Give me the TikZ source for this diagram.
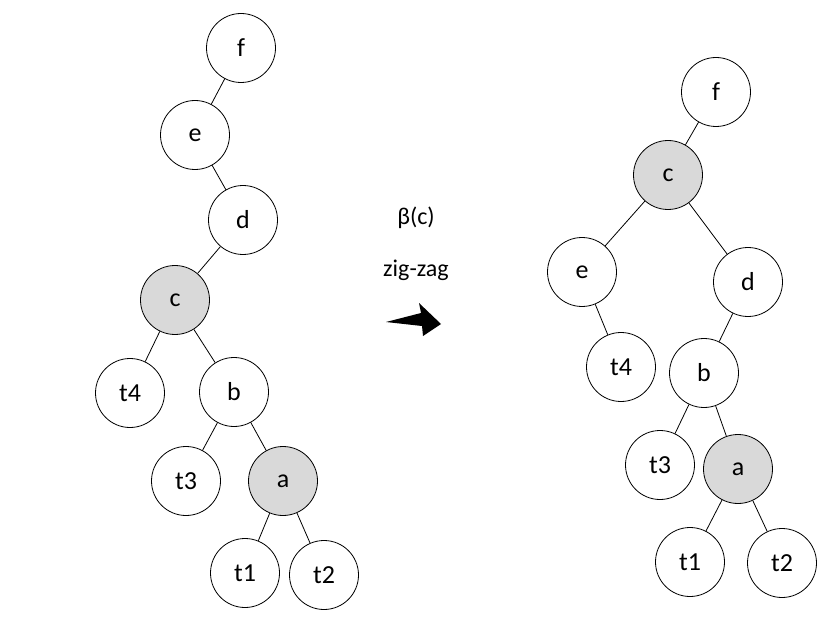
\documentclass[tikz,border=0pt]{standalone}
\usepackage{fontspec}
\setmainfont{Carlito}
\begin{document}
\begin{tikzpicture}[x=1pt,y=-1pt,
  nd/.style={circle,draw,thick,minimum size=69pt,inner sep=0pt,font=\fontsize{26}{30}\selectfont,fill=white},
  hl/.style={nd,fill=gray!30}]
\useasboundingbox (0,0) rectangle (831,623);
% left tree
\node[nd] (f) at (241,48) {f};
\node[nd] (e) at (195,135) {e};
\node[nd] (d) at (243,220) {d};
\node[hl] (c) at (175,300) {c};
\node[nd] (t4) at (130,393) {t4};
\node[nd] (b) at (234,392) {b};
\node[nd] (t3) at (186,481) {t3};
\node[hl] (a) at (283,481) {a};
\node[nd] (t1) at (245,573) {t1};
\node[nd] (t2) at (324,575) {t2};
\draw[thick] (f)--(e) (e)--(d) (d)--(c) (c)--(t4) (c)--(b) (b)--(t3) (b)--(a) (a)--(t1) (a)--(t2);
% right tree
\node[nd] (F) at (716,92) {f};
\node[hl] (C) at (668,175) {c};
\node[nd] (E) at (582,272) {e};
\node[nd] (D) at (748,282) {d};
\node[nd] (T4) at (621,367) {t4};
\node[nd] (B) at (704,373) {b};
\node[nd] (T3) at (660,465) {t3};
\node[hl] (A) at (738,469) {a};
\node[nd] (T1) at (690,562) {t1};
\node[nd] (T2) at (782,563) {t2};
\draw[thick] (F)--(C) (C)--(E) (C)--(D) (E)--(T4) (D)--(B) (B)--(T3) (B)--(A) (A)--(T1) (A)--(T2);
% label and arrow
\node[font=\fontsize{24}{28}\selectfont] (beta) at (416,218) {β(c)};
\node[font=\fontsize{24}{28}\selectfont] (zz) at (416,270) {zig-zag};
\fill (386,322) -- (421,313) -- (419,303) -- (441,324) -- (423,336) -- (422,326) -- cycle;
\end{tikzpicture}
\end{document}
